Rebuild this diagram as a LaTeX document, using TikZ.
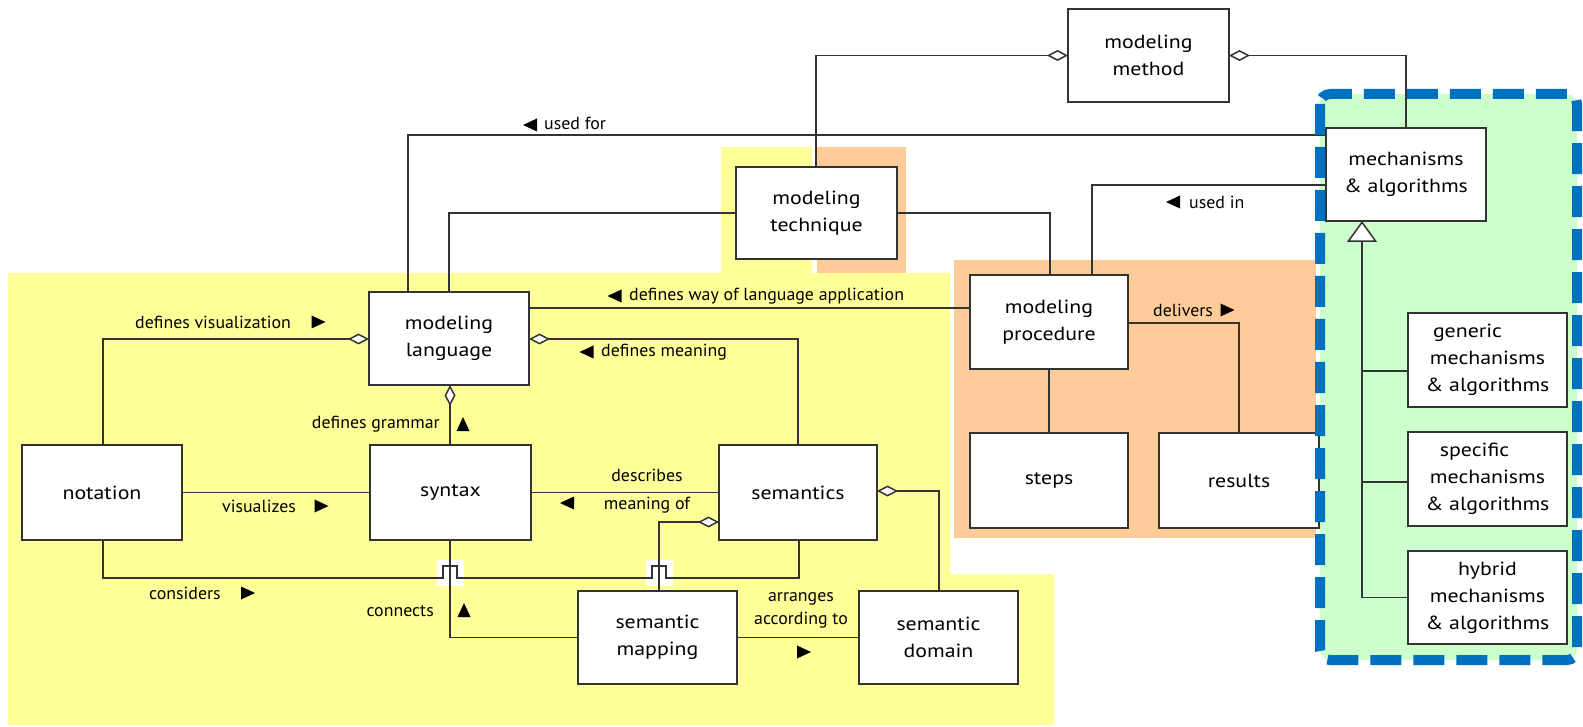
\documentclass[tikz,border=0pt]{standalone}
\usepackage{fontspec}
\setmainfont{PT Sans}[FakeStretch=1.02]
\newfontfamily\boxfont{PT Sans}[FakeStretch=1.15]
\usetikzlibrary{arrows.meta,calc}

\definecolor{bgyellow}{HTML}{FFFF99}
\definecolor{bgorange}{HTML}{FFCC99}
\definecolor{bggreen}{HTML}{CCFFCC}
\definecolor{frameblue}{HTML}{0070C0}
\definecolor{linegray}{HTML}{333333}

\tikzset{
  tri/.pic={\fill[black] (-7,-6.5) -- (7,0) -- (-7,6.5) -- cycle;}
}

\begin{document}
\begin{tikzpicture}[x=1pt, y=-1pt,
  box/.style={draw=linegray, line width=1.5pt, fill=white, align=center,
              inner sep=0pt, outer sep=0pt, font=\boxfont\fontsize{19}{27}\selectfont},
  conn/.style={draw=linegray, line width=1.5pt},
  lbl/.style={inner sep=0pt, font=\fontsize{17.5}{22}\selectfont},
  aggend/.style={-{Diamond[length=21pt,width=11pt,fill=white]}},
  aggstart/.style={{Diamond[length=21pt,width=11pt,fill=white]}-},
  genend/.style={-{Triangle[length=21pt,width=30pt,fill=white]}},
  frame/.style={draw=frameblue, line width=10pt, dash pattern=on 31pt off 12pt,
                rounded corners=10pt}
]
\useasboundingbox (0,0) rectangle (1583,727);

% coloured areas
\fill[bgyellow] (8,273) -- (950,273) -- (950,574) -- (1054,574) -- (1054,725) -- (8,725) -- cycle;
\fill[bgyellow] (721,147) rectangle (812,273);
\fill[bgorange] (817,147) rectangle (906,273);
\fill[bgorange] (954,260) rectangle (1316,538);
\fill[bggreen, rounded corners=10pt] (1320,94) rectangle (1577,660);

% boxes
\node[box, minimum width=161, minimum height=93] (method) at (1148.5,55.5) {modeling\\method};
\node[box, minimum width=160, minimum height=93] (mech) at (1406,174.5) {mechanisms\\\& algorithms};
\node[box, minimum width=159, minimum height=94] (gen) at (1487.5,360) {generic\hspace*{40pt}\\mechanisms\\\& algorithms};
\node[box, minimum width=159, minimum height=94] (spec) at (1487.5,479) {specific\hspace*{26pt}\\mechanisms\\\& algorithms};
\node[box, minimum width=159, minimum height=93] (hyb) at (1487.5,597.5) {hybrid\\mechanisms\\\& algorithms};
\node[box, minimum width=161, minimum height=92] (tech) at (816.5,213) {modeling\\technique};
\node[box, minimum width=158, minimum height=94] (proc) at (1049,322) {modeling\\procedure};
\node[box, minimum width=158, minimum height=95] (steps) at (1049,480.5) {steps};
\node[box, minimum width=160, minimum height=95] (res) at (1239,480.5) {results};
\node[box, minimum width=160, minimum height=95] (not) at (102,492.5) {notation};
\node[box, minimum width=160, minimum height=93] (lang) at (449,338.5) {modeling\\language};
\node[box, minimum width=161, minimum height=95] (syn) at (450.5,492.5) {syntax};
\node[box, minimum width=158, minimum height=95] (sem) at (798,492.5) {semantics};
\node[box, minimum width=159, minimum height=93] (map) at (657.5,637.5) {semantic\\mapping};
\node[box, minimum width=159, minimum height=93] (dom) at (938.5,637.5) {semantic\\domain};

% foot points of the vertical connectors crossed by the "considers" line
\coordinate (synfoot) at ($(syn.south west)+(80,0)$);
\coordinate (maphead) at ($(map.north west)+(81,0)$);
\coordinate (notfoot) at ($(not.south west)+(81,0)$);
\coordinate (semfoot) at ($(sem.south west)+(80,0)$);
\coordinate (cy) at ($(not.south)+(0,38)$);

% white patches behind the line jumps
\fill[white] ($(synfoot |- cy)+(-13.5,-18)$) rectangle ++(27,26);
\fill[white] ($(maphead |- cy)+(-13.5,-18)$) rectangle ++(27,26);

% connectors of the language part
\draw[conn, aggend] ($(not.north west)+(81,0)$) |- ($(lang.north west)+(0,47)$);
\draw[conn] (not.east) -- (syn.west);
\draw[conn, aggend] (synfoot |- syn.north) -- (synfoot |- lang.south);
\draw[conn] ($(lang.north east)+(0,16)$) -- ($(proc.north west)+(0,33)$);
\draw[conn, aggstart] ($(lang.north east)+(0,47)$) -| ($(sem.north west)+(79,0)$);
\draw[conn] (sem.west) -- (syn.east);
\draw[conn] (synfoot) |- (map.west);
\draw[conn] (map.east) -- (dom.west);
\draw[conn, aggstart] ($(sem.north east)+(0,46)$) -| ($(dom.north west)+(80,0)$);
\draw[conn, aggend] (maphead) |- ($(sem.north west)+(0,77)$);
\draw[conn] (notfoot) -- (notfoot |- cy)
  -- ($(synfoot |- cy)+(-7,0)$) -- ++(0,-12) -- ++(14,0) -- ++(0,12)
  -- ($(maphead |- cy)+(-7,0)$) -- ++(0,-12) -- ++(14,0) -- ++(0,12)
  -- (semfoot |- cy) -- (semfoot);

% connectors of the method part
\draw[conn] ($(lang.north west)+(39,0)$) |- ($(mech.north west)+(0,7)$);
\draw[conn] ($(lang.north west)+(80,0)$) |- (tech.west);
\draw[conn, aggend] ($(tech.north west)+(80,0)$) |- (method.west);
\draw[conn, aggstart] (method.east) -| ($(mech.north west)+(80,0)$);
\draw[conn] ($(proc.north west)+(122,0)$) |- ($(mech.north west)+(0,57)$);
\draw[conn] (tech.east) -| ($(proc.north west)+(80,0)$);
\draw[conn] ($(proc.south west)+(79,0)$) -- ($(steps.north west)+(79,0)$);
\draw[conn] ($(proc.north east)+(0,48)$) -| ($(res.north west)+(80,0)$);

% generalisation of mechanisms & algorithms
\coordinate (gx) at ($(mech.south west)+(36,0)$);
\coordinate (gb) at ($(gen.west)+(0,11)$);
\coordinate (sb) at ($(spec.west)+(0,3)$);
\draw[conn, genend] (hyb.west) -| (gx);
\draw[conn] (gb) -- (gb -| gx);
\draw[conn] (sb) -- (sb -| gx);

% dashed frame
\draw[frame] (1320,94) rectangle (1577,660);

% connector labels
\node[lbl, anchor=west] (tvis) at (135,322) {defines visualization};
\pic at (318.5,322) {tri};
\node[lbl, anchor=west] (tvz) at (222,506) {visualizes};
\pic at (321.5,506) {tri};
\node[lbl, anchor=west] (tcons) at (149,593) {considers};
\pic at (248,593) {tri};
\node[lbl, anchor=east] (tgram) at (440,424) {defines grammar};
\pic[rotate=90] at (463,424) {tri};
\node[lbl, anchor=west] (tway) at (629,296) {defines way of language application};
\pic[rotate=180] at (614.5,296) {tri};
\node[lbl, anchor=west] (tmean) at (601,352) {defines meaning};
\pic[rotate=180] at (586.5,352) {tri};
\node[lbl, align=center, font=\fontsize{17.5}{28}\selectfont] (tdesc) at (647,491) {describes\\meaning of};
\pic[rotate=180] at (567,503) {tri};
\node[lbl, anchor=east] (tconn) at (434,611) {connects};
\pic[rotate=90] at (464,610) {tri};
\node[lbl, align=center, font=\fontsize{17.5}{23}\selectfont] (tarr) at (801,610) {arranges\\according to};
\pic at (804,652) {tri};
\node[lbl, anchor=west] (tfor) at (544,123) {used for};
\pic[rotate=180] at (530,125) {tri};
\node[lbl, anchor=west] (tin) at (1189,202) {used in};
\pic[rotate=180] at (1173,202) {tri};
\node[lbl, anchor=west] (tdel) at (1153,310) {delivers};
\pic at (1227.5,310) {tri};
\end{tikzpicture}
\end{document}
